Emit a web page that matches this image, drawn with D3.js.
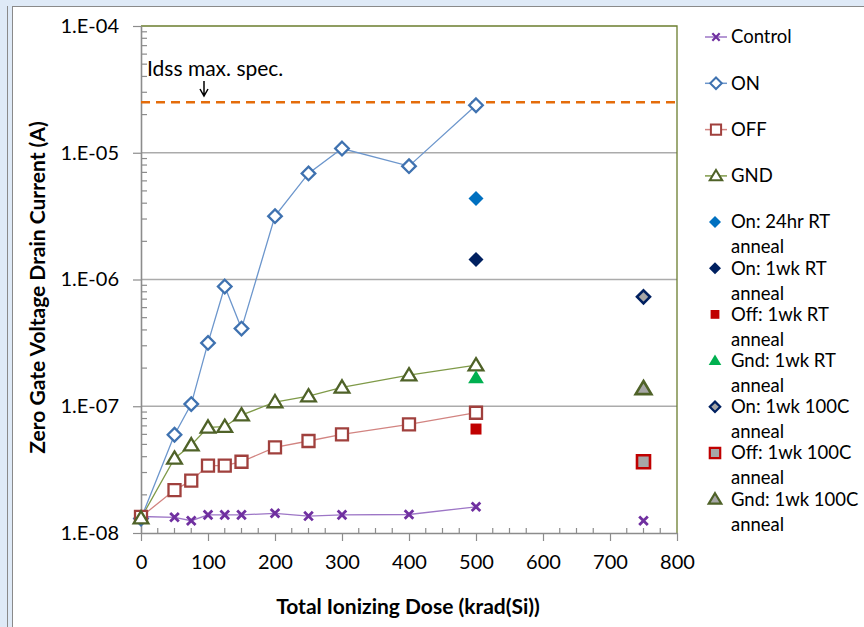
<!DOCTYPE html>
<html><head><meta charset="utf-8">
<script src="https://cdn.jsdelivr.net/npm/d3@7"></script>
<style>body{margin:0;background:#dfeaf7;} svg{display:block;font-family:Lato,"Noto Sans",sans-serif;}</style>
</head><body>
<svg id="c" width="864" height="627"></svg>
<script>
// ---- data ----
const dose = [0, 50, 75, 100, 125, 150, 200, 250, 300, 400, 500];
const control = [1.35e-8, 1.33e-8, 1.25e-8, 1.39e-8, 1.39e-8, 1.39e-8, 1.43e-8, 1.36e-8, 1.39e-8, 1.40e-8, 1.61e-8];
const controlLateDose = [750];
const controlLate = [1.25e-8];
const on = [1.3e-8, 5.96e-8, 1.04e-7, 3.16e-7, 8.8e-7, 4.1e-7, 3.16e-6, 6.87e-6, 1.08e-5, 7.84e-6, 2.37e-5];
const off = [1.34e-8, 2.18e-8, 2.59e-8, 3.4e-8, 3.4e-8, 3.65e-8, 4.74e-8, 5.32e-8, 6.0e-8, 7.2e-8, 8.89e-8];
const gnd = [1.31e-8, 3.88e-8, 4.94e-8, 6.82e-8, 6.9e-8, 8.5e-8, 1.08e-7, 1.2e-7, 1.41e-7, 1.76e-7, 2.11e-7];
const annealNames = ["On: 24hr RT anneal", "On: 1wk RT anneal", "Off: 1wk RT anneal", "Gnd: 1wk RT anneal", "On: 1wk 100C anneal", "Off: 1wk 100C anneal", "Gnd: 1wk 100C anneal"];
const annealDose = [500, 500, 500, 500, 750, 750, 750];
const annealVals = [4.36e-6, 1.44e-6, 6.61e-8, 1.68e-7, 7.3e-7, 3.65e-8, 1.38e-7];
const specLimit = 2.5e-5;
const xTicks = [0, 100, 200, 300, 400, 500, 600, 700, 800];
const yTicks = [1e-8, 1e-7, 1e-6, 1e-5, 1e-4];
const yTickLabels = ["1.E-08", "1.E-07", "1.E-06", "1.E-05", "1.E-04"];

// ---- styles ----
const mainSeries = [
  {name: "Control", vals: control, line: "#9d76c6", stroke: "#7030a0", fill: "none", shape: "x"},
  {name: "ON", vals: on, line: "#6c96cc", stroke: "#3f72b0", fill: "white", shape: "diamond"},
  {name: "OFF", vals: off, line: "#d28481", stroke: "#a0403d", fill: "white", shape: "square"},
  {name: "GND", vals: gnd, line: "#7f9a48", stroke: "#4f6228", fill: "white", shape: "triangle"}
];
const annealStyle = [
  {shape: "diamond", fill: "#0070c0", stroke: "none", r: 7.5},
  {shape: "diamond", fill: "#002060", stroke: "none", r: 7.5},
  {shape: "squareF", fill: "#c00000", stroke: "none", r: 5.5},
  {shape: "triangleF", fill: "#00b050", stroke: "none", r: 7.5},
  {shape: "diamond", fill: "#a6a6a6", stroke: "#002060", r: 6.5},
  {shape: "square", fill: "#a6a6a6", stroke: "#c00000", r: 6.5},
  {shape: "triangle", fill: "#a6a6a6", stroke: "#4f6228", r: 7.5}
];

function shapePath(shape, r) {
  switch (shape) {
    case "diamond": return `M0,${-r}L${r},0L0,${r}L${-r},0Z`;
    case "square": case "squareF": return `M${-r},${-r}H${r}V${r}H${-r}Z`;
    case "triangle": case "triangleF": return `M0,${-r}L${r*1.05},${r*0.75}L${-r*1.05},${r*0.75}Z`;
    case "x": return `M${-r},${-r}L${r},${r}M${-r},${r}L${r},${-r}`;
  }
}
const defaultR = {x: 4.3, diamond: 6.8, square: 6, triangle: 7};

const svg = d3.select("#c");
// outer frame
svg.append("line").attr("x1", 7.5).attr("x2", 7.5).attr("y1", 6).attr("y2", 627).attr("stroke", "#8a8a8a");
svg.append("rect").attr("x", 12.5).attr("y", 6.5).attr("width", 860).attr("height", 630).attr("fill", "white").attr("stroke", "#8a8a8a");

const L = 141, R = 677, T = 26, B = 533;
const x = d3.scaleLinear().domain([0, 800]).range([L, R]);
const y = d3.scaleLog().domain([1e-8, 1e-4]).range([B, T]);

// gridlines
svg.append("g").selectAll("line").data(yTicks.slice(1, 4)).join("line")
  .attr("x1", L).attr("x2", R).attr("y1", d => y(d)).attr("y2", d => y(d))
  .attr("stroke", "#ababab").attr("stroke-width", 1.6);

// plot border top/right (olive)
svg.append("path").attr("d", `M${L},${y(1e-4)}H${R}V${B}`).attr("fill", "none").attr("stroke", "#6b7d2e").attr("stroke-width", 1.3);

// Y axis
const yMinor = [];
for (let e = -8; e < -4; e++) for (let m = 2; m <= 9; m++) yMinor.push(m * Math.pow(10, e));
const gy = svg.append("g").attr("transform", `translate(${L},0)`);
gy.call(d3.axisLeft(y).tickValues(yTicks).tickFormat((d, i) => yTickLabels[i]).tickSizeOuter(0).tickSizeInner(8).tickPadding(14));
gy.select(".domain").attr("stroke", "#8c8c8c").attr("stroke-width", 1.6);
gy.selectAll(".tick line").attr("stroke", "#8c8c8c").attr("stroke-width", 1.2);
gy.selectAll(".tick text").attr("font-size", 20).attr("fill", "#000").attr("font-family", "Lato,sans-serif");
gy.append("g").selectAll("line").data(yMinor).join("line")
  .attr("x1", 0).attr("x2", 6).attr("y1", d => y(d)).attr("y2", d => y(d))
  .attr("stroke", "#8c8c8c").attr("stroke-width", 1.2);

// X axis
const xMinor = d3.range(25, 800, 25).filter(d => d % 100 !== 0);
const gx = svg.append("g").attr("transform", `translate(0,${B})`);
gx.call(d3.axisBottom(x).tickValues(xTicks).tickSizeOuter(0).tickSizeInner(8).tickPadding(14));
gx.select(".domain").attr("stroke", "#8c8c8c").attr("stroke-width", 1.6);
gx.selectAll(".tick line").attr("stroke", "#8c8c8c").attr("stroke-width", 1.2);
gx.selectAll(".tick text").attr("font-size", 20).attr("fill", "#000").attr("font-family", "Lato,sans-serif");
gx.append("g").selectAll("line").data(xMinor).join("line")
  .attr("x1", d => x(d)).attr("x2", d => x(d)).attr("y1", 0).attr("y2", -5)
  .attr("stroke", "#8c8c8c").attr("stroke-width", 1.2);

// axis titles
svg.append("text").attr("x", 408).attr("y", 614).attr("text-anchor", "middle")
  .attr("font-size", 21).attr("font-weight", "bold").text("Total Ionizing Dose (krad(Si))");
svg.append("text").attr("transform", `translate(45,${(T + B) / 2 + 8}) rotate(-90)`).attr("text-anchor", "middle")
  .attr("font-size", 21).attr("font-weight", "bold").text("Zero Gate Voltage Drain Current (A)");

// spec line
svg.append("line").attr("x1", L).attr("x2", R).attr("y1", y(specLimit)).attr("y2", y(specLimit))
  .attr("stroke", "#e46c0a").attr("stroke-width", 2.5).attr("stroke-dasharray", "9,6");
svg.append("text").attr("x", 147).attr("y", 76).attr("font-size", 21).text("Idss max. spec.");
const ax = 204;
svg.append("path").attr("d", `M${ax},81V95M${ax - 4},89L${ax},96L${ax + 4},89`).attr("fill", "none").attr("stroke", "#000").attr("stroke-width", 1.5);

// series lines and markers
const lineGen = d3.line().x(d => x(d[0])).y(d => y(d[1]));
function drawMarker(g, shape, cx, cy, r, fill, stroke, sw) {
  g.append("path").attr("d", shapePath(shape, r)).attr("transform", `translate(${cx},${cy})`)
    .attr("fill", shape === "x" ? "none" : fill).attr("stroke", stroke).attr("stroke-width", sw);
}
const plot = svg.append("g");
[...mainSeries].reverse().forEach(s => {
  const pts = dose.map((d, i) => [d, s.vals[i]]);
  plot.append("path").attr("d", lineGen(pts)).attr("fill", "none").attr("stroke", s.line).attr("stroke-width", 1.3);
});
[...mainSeries].forEach(s => {
  dose.forEach((d, i) => drawMarker(plot, s.shape, x(d), y(s.vals[i]), defaultR[s.shape], s.fill, s.stroke, s.shape === "x" ? 2.8 : 2.3));
});
controlLateDose.forEach((d, i) => drawMarker(plot, "x", x(d), y(controlLate[i]), 4.3, "none", "#7030a0", 2.8));
annealVals.forEach((v, i) => {
  const st = annealStyle[i];
  drawMarker(plot, st.shape, x(annealDose[i]), y(v), st.r, st.fill, st.stroke, 2.6);
});

// legend
const leg = svg.append("g");
const lx = 716, tx = 731;
mainSeries.forEach((s, i) => {
  const ly = 37 + i * 46.3;
  leg.append("line").attr("x1", lx - 11).attr("x2", lx + 11).attr("y1", ly).attr("y2", ly).attr("stroke", s.line).attr("stroke-width", 1.5);
  drawMarker(leg, s.shape, lx, ly, defaultR[s.shape] * 0.85, s.fill, s.stroke, s.shape === "x" ? 2.2 : 2);
  leg.append("text").attr("x", tx).attr("y", ly).attr("dy", "0.35em").attr("font-size", 18.5).text(s.name);
});
annealNames.forEach((n, i) => {
  const ly = 222 + i * 46.2;
  const st = annealStyle[i];
  drawMarker(leg, st.shape, lx - 1, ly, st.r * 0.8, st.fill, st.stroke, 2.2);
  const parts = n.split(" anneal");
  leg.append("text").attr("x", tx).attr("y", ly).attr("dy", "0.35em").attr("font-size", 18.5).text(parts[0]);
  leg.append("text").attr("x", tx).attr("y", ly + 25).attr("dy", "0.35em").attr("font-size", 18.5).text("anneal");
});
</script>
</body></html>
